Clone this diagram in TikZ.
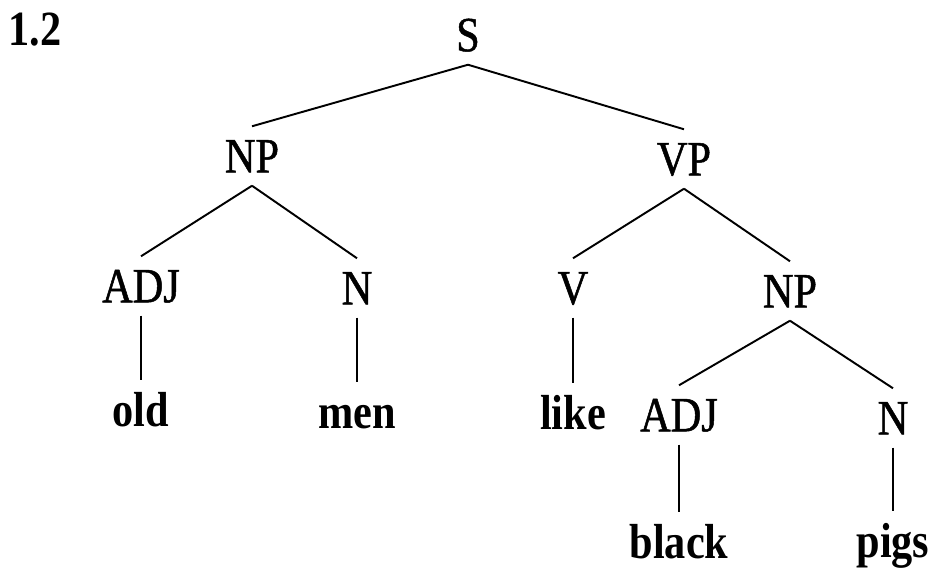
\documentclass[tikz,border=0pt]{standalone}
\usepackage{fontspec}
\setmainfont{Liberation Serif}[FakeStretch=0.86, UprightFeatures={FakeBold=1}]
\usepackage{tikz}

\begin{document}
\begin{tikzpicture}[
    every node/.style={font=\fontsize{28}{30}\selectfont, inner xsep=0pt, inner ysep=0.25cm, text height=18.5pt, text depth=0pt},
    word/.style={font=\fontsize{28}{30}\selectfont\bfseries},
    line width=1.1pt]
    \useasboundingbox (0,0) rectangle (18.58,11.36);
    \node [word] (label) at (0.70,10.78){1.2};

    % phrase level
    \node (s)   at (9.36,10.66){S};
    \node (np)  at (5.04,8.24){NP};
    \node (vp)  at (13.68,8.18){VP};

    % categories
    \node (adja) at (2.82,5.64){ADJ};  \node (na) at (7.14,5.60){N};
    \node (v)    at (11.46,5.60){V};   \node (npb) at (15.80,5.54){NP};
    \node (adjb) at (13.58,3.06){ADJ}; \node (nb) at (17.86,3.00){N};

    % words
    \node [word] (old)   at (2.82,3.16){old};
    \node [word] (men)   at (7.14,3.12){men};
    \node [word] (like)  at (11.46,3.10){like};
    \node [word] (black) at (13.58,0.52){black};
    \node [word] (pigs)  at (17.86,0.54){pigs};

    \draw (s.south) -- (np.north);   \draw (s.south) -- (vp.north);
    \draw (np.south) -- (adja.north); \draw (np.south) -- (na.north);
    \draw (vp.south) -- (v.north);   \draw (vp.south) -- (npb.north);
    \draw (npb.south) -- (adjb.north); \draw (npb.south) -- (nb.north);

    \draw (adja.south) -- (old.north);
    \draw (na.south) -- (men.north);
    \draw (v.south) -- (like.north);
    \draw (adjb.south) -- (black.north);
    \draw (nb.south) -- (pigs.north);
\end{tikzpicture}
\end{document}
